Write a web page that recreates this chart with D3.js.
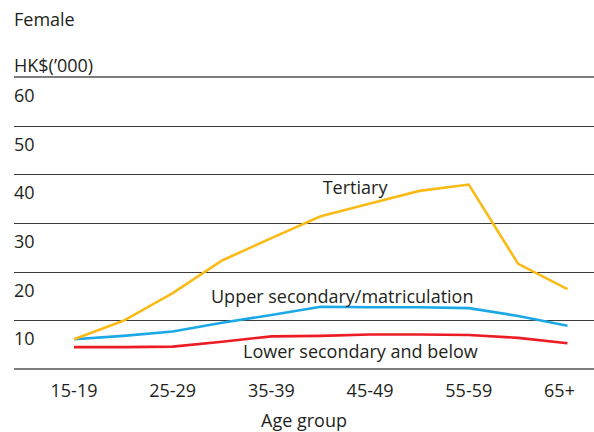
<!DOCTYPE html>
<html>
<head>
<meta charset="utf-8">
<script src="https://cdn.jsdelivr.net/npm/d3@7"></script>
<style>
  html, body { margin: 0; padding: 0; background: #fff; }
  svg text { font-family: "Open Sans", "Noto Sans", sans-serif; fill: #231f20; }
</style>
</head>
<body>
<svg id="chart" width="594" height="432"></svg>
<script>
// Median monthly earnings of women by education level, HK$('000)
const ageGroups = ["15-19", "20-24", "25-29", "30-34", "35-39", "40-44",
                   "45-49", "50-54", "55-59", "60-64", "65+"];
const tickGroups = ["15-19", "25-29", "35-39", "45-49", "55-59", "65+"];
const tertiary = [6.1, 9.9, 15.6, 22.3, 26.9, 31.4, 34.0, 36.6, 37.9, 21.6, 16.4];
const upperSecondary = [6.1, 6.8, 7.7, 9.5, 11.1, 12.8, 12.7, 12.7, 12.5, 10.9, 8.9];
const lowerSecondary = [4.5, 4.5, 4.6, 5.6, 6.7, 6.8, 7.1, 7.1, 7.0, 6.4, 5.3];
const yTicks = [10, 20, 30, 40, 50, 60];

const svg = d3.select("#chart");

const x = d3.scalePoint().domain(ageGroups).range([74, 567.5]);
const y = d3.scaleLinear().domain([0, 60]).range([369, 77]);

// Titles
svg.append("text").attr("x", 14).attr("y", 26)
  .attr("font-size", 18).text("Female");
svg.append("text").attr("x", 14).attr("y", 72)
  .attr("font-size", 18).text("HK$(\u2019000)");

// Horizontal rules: one per tick value plus the baseline
const ruleValues = [0].concat(yTicks);
const edge = d => d === 0 || d === 60;
svg.append("g").selectAll("line").data(ruleValues).join("line")
  .attr("x1", 14).attr("x2", 594)
  .attr("y1", d => edge(d) ? y(d) : Math.round(y(d)) + 0.5)
  .attr("y2", d => edge(d) ? y(d) : Math.round(y(d)) + 0.5)
  .attr("stroke", d => edge(d) ? "#7d7d7d" : "#3c3c3c")
  .attr("stroke-width", d => edge(d) ? 2 : 1);

// Value labels hang below their rule
svg.append("g").selectAll("text").data(yTicks).join("text")
  .attr("x", 14).attr("y", d => y(d) + 25)
  .attr("font-size", 18).text(d => d);

// Category axis labels
svg.append("g").selectAll("text").data(tickGroups).join("text")
  .attr("x", d => x(d) + (d === "65+" ? -8 : 0)).attr("y", 397)
  .attr("text-anchor", "middle").attr("font-size", 18).text(d => d);

svg.append("text").attr("x", 304).attr("y", 427)
  .attr("text-anchor", "middle").attr("font-size", 18).text("Age group");

// Series lines
const line = d3.line()
  .x((d, i) => x(ageGroups[i]))
  .y(d => y(d));

const series = [
  { values: lowerSecondary, color: "#ed1c24" },
  { values: upperSecondary, color: "#1aa9e6" },
  { values: tertiary, color: "#fbbb16" }
];
svg.append("g").selectAll("path").data(series).join("path")
  .attr("d", d => line(d.values))
  .attr("fill", "none")
  .attr("stroke", d => d.color)
  .attr("stroke-width", 2.6)
  .attr("stroke-linejoin", "miter");

// Series names
svg.append("text").attr("x", 322.7).attr("y", 194)
  .attr("font-size", 18).text("Tertiary");
svg.append("text").attr("x", 211).attr("y", 303)
  .attr("font-size", 18).text("Upper secondary/matriculation");
svg.append("text").attr("x", 243).attr("y", 358)
  .attr("font-size", 18).text("Lower secondary and below");
</script>
</body>
</html>
